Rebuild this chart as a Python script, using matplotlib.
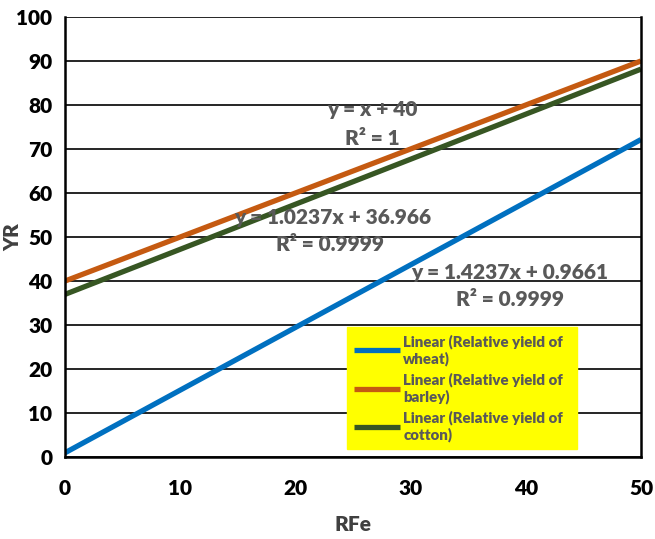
import matplotlib
matplotlib.use("Agg")
import matplotlib.pyplot as plt

# Data (trendline endpoints)
x_vals = [0, 50]
wheat = [0.97, 72.15]
barley = [40.0, 90.0]
cotton = [36.97, 88.15]

labels = ["Linear (Relative yield of\nwheat)",
          "Linear (Relative yield of\nbarley)",
          "Linear (Relative yield of\ncotton)"]
colors = ["#0070C0", "#C55A11", "#375623"]
x_ticks = [0, 10, 20, 30, 40, 50]
y_ticks = [0, 10, 20, 30, 40, 50, 60, 70, 80, 90, 100]

plt.rcParams['font.family'] = ['Lato', 'DejaVu Sans']
W = 'heavy'

fig = plt.figure(figsize=(6.55, 5.39), dpi=100)
ax = fig.add_axes([0.0992, 0.152, 0.8794, 0.8165])

ax.set_xlim(0, 50)
ax.set_ylim(0, 100)
ax.set_xticks(x_ticks)
ax.set_yticks(y_ticks)
ax.yaxis.grid(True, color='black', linewidth=1.2)
ax.set_axisbelow(True)
ax.tick_params(length=0, labelsize=15, pad=9)
ax.tick_params(axis='x', pad=16)
for lab in ax.get_xticklabels() + ax.get_yticklabels():
    lab.set_fontweight(W)

for s in ['left', 'bottom', 'right']:
    ax.spines[s].set_linewidth(1.8)
    ax.spines[s].set_color('black')
ax.spines['top'].set_visible(False)

for ys, c, lab in zip([wheat, barley, cotton], colors, labels):
    ax.plot(x_vals, ys, color=c, linewidth=3.8, label=lab, solid_capstyle='butt')

tc = '#595959'
fs = 15
ax.text(26.7, 78.9, "y = x + 40", color=tc, fontsize=fs, fontweight=W, ha='center', va='center')
ax.text(26.7, 72.5, "R² = 1", color=tc, fontsize=fs, fontweight=W, ha='center', va='center')
ax.text(23.2, 54.5, "y = 1.0237x + 36.966", color=tc, fontsize=fs, fontweight=W, ha='center', va='center')
ax.text(23.0, 48.2, "R² = 0.9999", color=tc, fontsize=fs, fontweight=W, ha='center', va='center')
ax.text(38.6, 42.0, "y = 1.4237x + 0.9661", color=tc, fontsize=fs, fontweight=W, ha='center', va='center')
ax.text(38.6, 35.7, "R² = 0.9999", color=tc, fontsize=fs, fontweight=W, ha='center', va='center')

leg = ax.legend(loc='lower left', bbox_to_anchor=(0.4896, 0.018, 0.4, 0.305),
                mode='expand', borderaxespad=0, frameon=True, fancybox=False,
                facecolor='yellow', edgecolor='yellow', framealpha=1, handlelength=3.1,
                prop={'weight': W, 'size': 10.8}, labelspacing=0.45,
                borderpad=0.45, handletextpad=0.2)
for t in leg.get_texts():
    t.set_color(tc)

ax.set_xlabel("RFe", fontsize=15, fontweight=W, color='#404040', labelpad=12)
ax.yaxis.set_label_coords(-0.075, 0.52)
ax.set_ylabel("YR", fontsize=15, fontweight=W, color='#404040')

fig.savefig("out.png", dpi=100)
